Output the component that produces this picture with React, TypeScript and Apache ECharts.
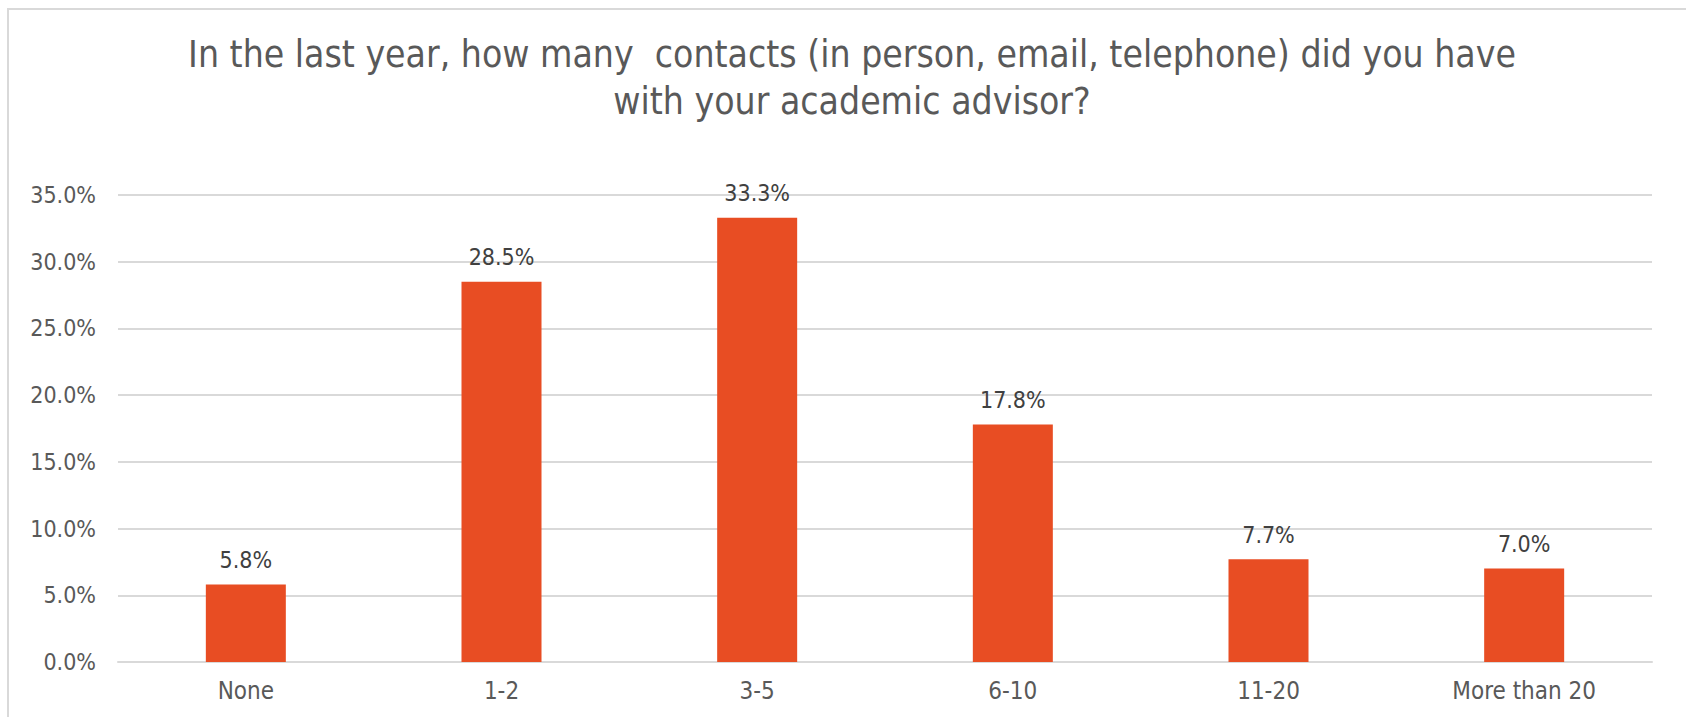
import React, { useEffect, useRef } from "react";
import * as echarts from "echarts";

const categories = ["None", "1-2", "3-5", "6-10", "11-20", "More than 20"];
const values = [5.8, 28.5, 33.3, 17.8, 7.7, 7.0];
const yTicks = [0, 5, 10, 15, 20, 25, 30, 35];
const titleText =
  "In the last year, how many  contacts (in person, email, telephone) did you have\nwith your academic advisor?";

const FONT = "'Liberation Sans Narrow', 'DejaVu Sans Condensed', 'Open Sans', sans-serif";

export default function App() {
  const ref = useRef<HTMLDivElement>(null);
  useEffect(() => {
    document.body.style.margin = "0";
    if (!ref.current) return;
    const chart = echarts.init(ref.current, undefined, { renderer: "svg" });
    chart.setOption({
      animation: false,
      backgroundColor: "#ffffff",
      textStyle: { fontFamily: FONT },
      graphic: [
        {
          type: "rect",
          shape: { x: 8, y: 9, width: 1700, height: 720 },
          style: { fill: "none", stroke: "#d9d9d9", lineWidth: 2 },
          silent: true,
        },
        {
          type: "text",
          x: 852,
          y: 31,
          style: {
            text: titleText,
            align: "center",
            verticalAlign: "top",
            fontFamily: FONT,
            fontSize: 37,
            lineHeight: 47,
            fill: "#595959",
          },
          silent: true,
        },
      ],
      grid: { left: 118, right: 34, top: 195, bottom: 55, containLabel: false },
      xAxis: {
        type: "category",
        data: categories,
        axisTick: { show: false },
        axisLine: { lineStyle: { color: "#d9d9d9", width: 2 } },
        axisLabel: { color: "#595959", fontSize: 24, margin: 17, fontFamily: FONT },
      },
      yAxis: {
        type: "value",
        min: yTicks[0],
        max: yTicks[yTicks.length - 1],
        interval: 5,
        axisLine: { show: false },
        axisTick: { show: false },
        splitLine: { lineStyle: { color: "#d9d9d9", width: 2 } },
        axisLabel: {
          color: "#595959",
          fontSize: 23,
          margin: 22,
          fontFamily: FONT,
          formatter: (v: number) => v.toFixed(1) + "%",
        },
      },
      series: [
        {
          type: "bar",
          data: values,
          barWidth: 80,
          itemStyle: { color: "#E84D23" },
          label: {
            show: true,
            position: "top",
            distance: 13,
            color: "#404040",
            fontSize: 23,
            fontFamily: FONT,
            formatter: (p: any) => Number(p.value).toFixed(1) + "%",
          },
        },
      ],
    });
    return () => chart.dispose();
  }, []);
  return <div ref={ref} style={{ width: 1686, height: 717 }} />;
}
